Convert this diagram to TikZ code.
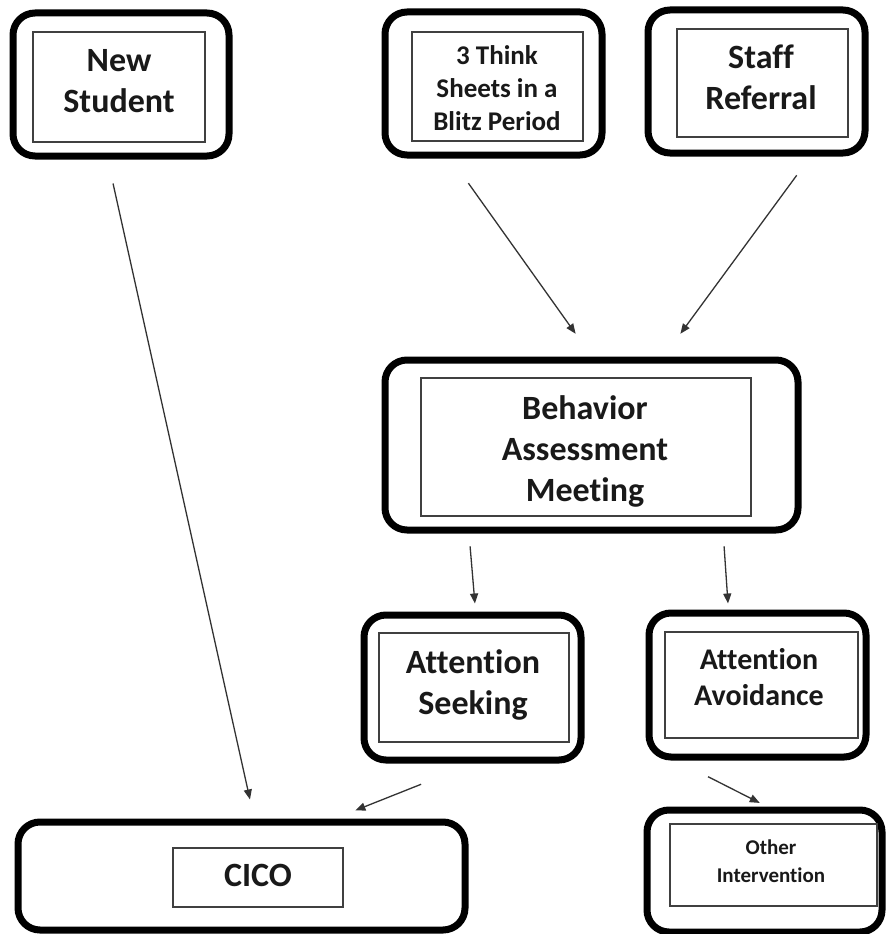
\documentclass[tikz,border=0pt]{standalone}
\usepackage{fontspec}
\setmainfont{Carlito}[Ligatures=NoCommon]
\usetikzlibrary{arrows.meta}
\tikzset{
  outerbox/.style={draw=black, line width=7pt, rounded corners=22pt, inner sep=0pt, minimum width=#1},
  innerbox/.style={draw=black!75, line width=1.6pt, inner sep=0pt},
  lbl/.style={inner sep=0pt, align=center, text depth=0pt, font=\bfseries, text=black!90},
  big/.style={font=\bfseries\fontsize{34}{41}\selectfont},
  mid/.style={font=\bfseries\fontsize{30}{36}\selectfont},
  sml/.style={font=\bfseries\fontsize{27}{33}\selectfont},
  tiny/.style={font=\bfseries\fontsize{21}{28}\selectfont},
  arr/.style={draw=black!80, line width=1.3pt, -{Triangle[length=10pt,width=8pt]}}
}
\begin{document}
\begin{tikzpicture}[x=1pt,y=-1pt]
\fill[white] (0,0) rectangle (886,934);
\useasboundingbox (0,0) rectangle (886,934);
% outer boxes
\node[outerbox=216pt, minimum height=143pt] (ns) at (121,84.5) {};
\node[outerbox=217pt, minimum height=143pt] (think) at (493.5,83.5) {};
\node[outerbox=217pt, minimum height=143pt] (staff) at (756.5,81.5) {};
\node[outerbox=413pt, minimum height=170pt] (bam) at (591.5,445) {};
\node[outerbox=217pt, minimum height=145pt] (seek) at (472.5,687.5) {};
\node[outerbox=217pt, minimum height=144pt] (avoid) at (757.5,685) {};
\node[outerbox=235pt, minimum height=122pt] (other) at (764.5,871) {};
\node[outerbox=447pt, minimum height=108pt] (cico) at (241.5,876) {};
% inner boxes
\node[innerbox, minimum width=172pt, minimum height=110pt] (nsin) at (119,87) {};
\node[innerbox, minimum width=171pt, minimum height=109pt] (thinkin) at (497.5,86.5) {};
\node[innerbox, minimum width=171pt, minimum height=108pt] (staffin) at (762.5,83) {};
\node[innerbox, minimum width=330pt, minimum height=138pt] (bamin) at (586,447) {};
\node[innerbox, minimum width=190pt, minimum height=109pt] (seekin) at (474,687.5) {};
\node[innerbox, minimum width=193pt, minimum height=106pt] (avoidin) at (761.5,685) {};
\node[innerbox, minimum width=207pt, minimum height=82pt] (otherin) at (773.5,865) {};
\node[innerbox, minimum width=170pt, minimum height=59pt] (cicoin) at (258,877.5) {};
% labels
\node[lbl, big] (nst) at (119,81) {New\\Student};
\node[lbl, sml] (thinkt) at (497,88.5) {3 Think\\Sheets in a\\Blitz Period};
\node[lbl, big] (stafft) at (761,77.5) {Staff\\Referral};
\node[lbl, big] (bamt) at (585,448.5) {Behavior\\Assessment\\Meeting};
\node[lbl, big] (seekt) at (473,682.5) {Attention\\Seeking};
\node[lbl, mid] (avoidt) at (759,677) {Attention\\Avoidance};
\node[lbl, tiny] (othert) at (771,861) {Other\\Intervention};
\node[lbl, big] (cicot) at (258,875) {CICO};
% connectors
\draw[arr, shorten <=24.6pt, shorten >=19.5pt] ([xshift=-13.3pt]ns.south) -- ([xshift=12.7pt]cico.north);
\draw[arr, shorten <=30.3pt, shorten >=27.9pt] ([xshift=-42.7pt]think.south) -- ([xshift=0.3pt]bam.north);
\draw[arr, shorten <=23.3pt, shorten >=28.2pt] ([xshift=54pt]staff.south) -- ([xshift=72.2pt]bam.north);
\draw[arr, shorten <=13pt, shorten >=8pt] ([xshift=-122.5pt]bam.south) -- ([xshift=3.1pt]seek.north);
\draw[arr, shorten <=13pt, shorten >=6pt] ([xshift=131.7pt]bam.south) -- ([xshift=-29.1pt]avoid.north);
\draw[arr, shorten <=56.3pt, shorten >=22pt] ([xshift=0.9pt]seek.south) -- ([xshift=93.4pt]cico.north);
\draw[arr, shorten <=35.7pt, shorten >=7.9pt] ([xshift=-81.3pt]avoid.south) -- ([xshift=2.3pt]other.north);
\end{tikzpicture}
\end{document}
